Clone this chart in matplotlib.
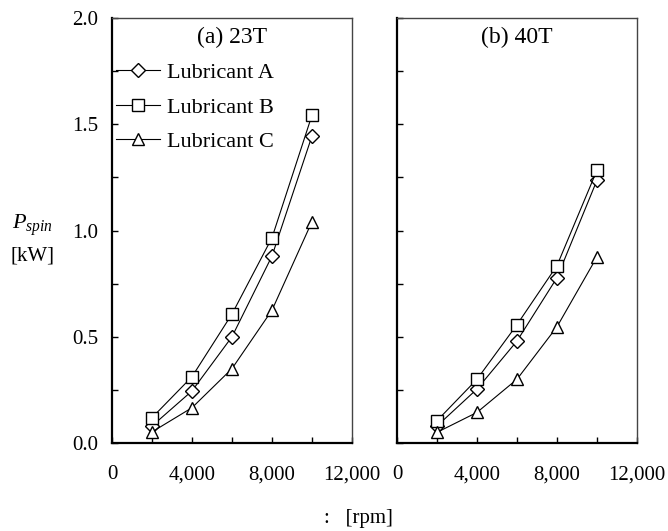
import numpy as np
import matplotlib.pyplot as plt
from matplotlib.ticker import MultipleLocator, FuncFormatter

# ===============================
# Data
# ===============================
speed = [2000, 4000, 6000, 8000, 10000]

# (a) 23T
a_lub_a = [0.08, 0.245, 0.50, 0.88, 1.445]
a_lub_b = [0.119, 0.312, 0.607, 0.966, 1.543]
a_lub_c = [0.052, 0.166, 0.350, 0.625, 1.042]

# (b) 40T
b_lub_a = [0.08, 0.254, 0.480, 0.778, 1.237]
b_lub_b = [0.105, 0.300, 0.557, 0.835, 1.284]
b_lub_c = [0.050, 0.144, 0.300, 0.547, 0.876]

titles = ["(a) 23T", "(b) 40T"]
labels = ["Lubricant A", "Lubricant B", "Lubricant C"]

plt.rcParams["font.family"] = ["Liberation Serif", "DejaVu Serif"]
plt.rcParams["mathtext.fontset"] = "custom"
plt.rcParams["mathtext.rm"] = "Liberation Serif"
plt.rcParams["mathtext.it"] = "Liberation Serif:italic"

fig = plt.figure(figsize=(6.68, 5.31), dpi=100)
ax_a = fig.add_axes([112 / 668, 88 / 531, 240 / 668, 425 / 531])
ax_b = fig.add_axes([397 / 668, 88 / 531, 240 / 668, 425 / 531])

markers = [("D", 7.0), ("s", 8.5), ("^", 8.5)]
panels = [
    (ax_a, [a_lub_a, a_lub_b, a_lub_c]),
    (ax_b, [b_lub_a, b_lub_b, b_lub_c]),
]

fmt = FuncFormatter(lambda v, p: f"{int(v):,}")

for i, (ax, series) in enumerate(panels):
    for vals, (m, ms), lab in zip(series, markers, labels):
        ax.plot(speed, vals, color="black", linewidth=0.8, marker=m,
                markersize=ms, markerfacecolor="white",
                markeredgecolor="black", markeredgewidth=1.0, label=lab)

    ax.set_xlim(0, 12000)
    ax.set_ylim(0, 2.0)
    ax.xaxis.set_major_locator(MultipleLocator(4000))
    ax.xaxis.set_minor_locator(MultipleLocator(2000))
    ax.xaxis.set_major_formatter(fmt)
    ax.yaxis.set_major_locator(MultipleLocator(0.5))
    ax.yaxis.set_minor_locator(MultipleLocator(0.25))
    ax.yaxis.set_major_formatter(FuncFormatter(lambda v, p: f"{v:.1f}"))
    ax.tick_params(which="both", direction="in", length=4, width=1,
                   labelsize=15, top=False, right=False, pad=16,
                   color="black")
    ax.tick_params(axis="y", pad=10)
    for s in ["left", "bottom"]:
        ax.spines[s].set_linewidth(1.6)
        ax.spines[s].set_color("black")
    for s in ["top", "right"]:
        ax.spines[s].set_linewidth(1.0)
        ax.spines[s].set_color("#444444")

    ax.text(0.5, 0.955, titles[i], transform=ax.transAxes, ha="center",
            va="center", fontsize=17)

ax_b.tick_params(axis="y", labelleft=False)

ax_a.legend(loc="upper left", bbox_to_anchor=(0.015, 0.895), frameon=False,
            fontsize=16, handlelength=2.0, handletextpad=0.3,
            labelspacing=0.62, borderaxespad=0.0, borderpad=0.0)

fig.text(33 / 668, 1 - 225 / 531, r"$P_{spin}$", ha="center", va="center",
         fontsize=16)
fig.text(33 / 668, 1 - 256 / 531, "[kW]", ha="center", va="center",
         fontsize=15)
fig.text(324 / 668, 1 - 519 / 531, ":   [rpm]", ha="left", va="center",
         fontsize=15)

plt.savefig("out.png", dpi=100)
